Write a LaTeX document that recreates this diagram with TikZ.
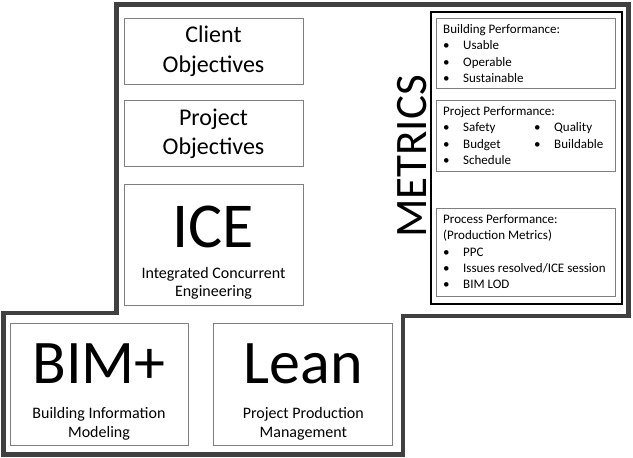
\documentclass[tikz,border=0pt]{standalone}
\usepackage{fontspec}
\setmainfont{Carlito}
\usetikzlibrary{positioning}

\definecolor{framegray}{HTML}{404040}
\definecolor{boxgray}{HTML}{7F7F7F}
\newcommand{\bul}{\makebox[20pt][l]{\textbullet}}

\begin{document}
\begin{tikzpicture}[x=1pt,y=-1pt,
  box/.style={draw=boxgray, line width=0.8pt, inner sep=0pt, minimum width=179pt},
  objbox/.style={box, minimum height=66pt, align=center, font=\fontsize{24}{29.5}\selectfont},
  bigname/.style={anchor=base, inner sep=0pt, font=\fontsize{64}{64}\selectfont},
  subname/.style={align=center, inner sep=0pt, font=\fontsize{16}{18.5}\selectfont},
  metricbox/.style={box, anchor=north west},
  metriclist/.style={anchor=north west, align=left, inner xsep=7pt, inner ysep=6.5pt, font=\fontsize{13}{16.2}\selectfont}
]
  \useasboundingbox (0,0) rectangle (633,458);

  % outer frame
  \draw[framegray, line width=4.5pt] (116.5,4.5) -- (628.5,4.5) -- (628.5,316) -- (403,316)
    -- (403,454.5) -- (3.5,454.5) -- (3.5,313) -- (116.5,313) -- cycle;

  % left column
  \node[objbox] (client) at (213.5,51) {Client\\Objectives};
  \node[objbox, below=16pt of client] (project) {Project\\Objectives};
  \node[box, minimum height=121pt, below=17pt of project] (ice) {};
  \node[bigname] (icename) at (213.5,247) {ICE};
  \node[subname] (icesub) at (213.5,283.5) {Integrated Concurrent\\Engineering};

  \node[box, minimum width=178pt, minimum height=122pt] (bim) at (99,384) {};
  \node[box, minimum height=122pt, right=25pt of bim] (lean) {};
  \node[bigname, font=\fontsize{62}{62}\selectfont] (bimname) at (bim.center |- 0,383) {BIM+};
  \node[bigname, font=\fontsize{62}{62}\selectfont] (leanname) at (lean.center |- 0,383) {Lean};
  \node[subname] (bimsub) at (bim.center |- 0,424) {Building Information\\Modeling};
  \node[subname] (leansub) at (lean.center |- 0,424) {Project Production\\Management};

  % metrics
  \node[rotate=90, inner sep=0pt, font=\fontsize{45}{45}\selectfont] (metrics) at (412.5,156.5) {METRICS};
  \node[draw=black, line width=2pt, minimum width=191pt, minimum height=292pt] (metricframe) at (526.5,158) {};

  \node[metricbox, minimum height=70pt] (building) at (436,18) {};
  \node[metricbox, minimum height=71pt] (projperf) at (436,100) {};
  \node[metricbox, minimum height=88pt] (process) at (436,208) {};

  \node[metriclist] (buildinglist) at (building.north west)
    {Building Performance:\\\bul Usable\\\bul Operable\\\bul Sustainable};
  \node[metriclist] (projperflist) at (projperf.north west)
    {Project Performance:\\\makebox[91pt][l]{\bul Safety}\bul Quality\\
     \makebox[91pt][l]{\bul Budget}\bul Buildable\\\bul Schedule};
  \node[metriclist] (processlist) at (process.north west)
    {Process Performance:\\(Production Metrics)\\\bul PPC\\\bul Issues resolved/ICE session\\\bul BIM LOD};
\end{tikzpicture}
\end{document}
